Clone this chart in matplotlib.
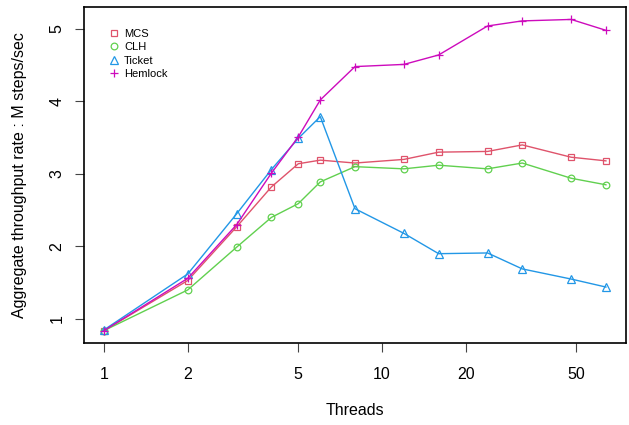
import numpy as np
import matplotlib
matplotlib.use("Agg")
import matplotlib.pyplot as plt
from matplotlib.ticker import FixedLocator, NullLocator

plt.rcParams['font.family'] = ['Liberation Sans', 'DejaVu Sans']

# data
threads = [1, 2, 3, 4, 5, 6, 8, 12, 16, 24, 32, 48, 64]
mcs = [0.84, 1.53, 2.27, 2.82, 3.14, 3.19, 3.15, 3.20, 3.30, 3.31, 3.40, 3.23, 3.18]
clh = [0.84, 1.40, 1.99, 2.40, 2.59, 2.89, 3.10, 3.07, 3.12, 3.07, 3.15, 2.94, 2.85]
ticket = [0.85, 1.62, 2.45, 3.06, 3.49, 3.79, 2.52, 2.18, 1.90, 1.91, 1.69, 1.55, 1.44]
hemlock = [0.84, 1.56, 2.30, 3.01, 3.51, 4.02, 4.48, 4.51, 4.64, 5.04, 5.11, 5.13, 4.98]

names = ["MCS", "CLH", "Ticket", "Hemlock"]
colours = ["#DF536B", "#61D04F", "#2297E6", "#CD0BBC"]
markers = ["s", "o", "^", "+"]
msizes = [4.3, 4.8, 5.3, 6.0]
xticks = [1, 2, 5, 10, 20, 50]
yticks = [1, 2, 3, 4, 5]

fig = plt.figure(figsize=(6.29, 4.25), dpi=100)
ax = fig.add_axes([84/629, 82/425, 542/629, 336/425])

for vals, name, col, mk, ms in zip([mcs, clh, ticket, hemlock], names, colours, markers, msizes):
    ax.plot(threads, vals, color=col, lw=1.0, marker=mk, ms=ms, mew=0.9,
            mfc="none", label=name)

# R style 4% padding on both axes
ax.set_xscale("log")
lo, hi = np.log10(min(threads)), np.log10(max(threads))
pad = 0.04 * (hi - lo)
ax.set_xlim(10 ** (lo - pad), 10 ** (hi + pad))
allv = mcs + clh + ticket + hemlock
ymin, ymax = min(allv), max(allv)
ypad = 0.04 * (ymax - ymin)
ax.set_ylim(ymin - ypad, ymax + ypad)

ax.xaxis.set_major_locator(FixedLocator(xticks))
ax.xaxis.set_minor_locator(NullLocator())
ax.set_xticklabels([str(t) for t in xticks])
ax.set_yticks(yticks)
ax.set_yticklabels([str(t) for t in yticks], rotation=90, va="center")

ax.tick_params(axis="both", length=6.5, width=0.8, labelsize=11.5, color="#444444")
ax.tick_params(axis="x", pad=11)
ax.tick_params(axis="y", pad=7.5)
for s in ax.spines.values():
    s.set_linewidth(1.2)

ax.set_xlabel("Threads", fontsize=11.5, labelpad=15)
ax.set_ylabel("Aggregate throughput rate : M steps/sec", fontsize=11.5, labelpad=16)

leg = ax.legend(loc="upper left", bbox_to_anchor=(0.039, 0.948), frameon=False,
                fontsize=8, handlelength=0.8, handletextpad=0.5, labelspacing=0.3,
                borderaxespad=0)
for h in leg.legend_handles:
    h.set_linestyle("none")

fig.savefig("out.png", dpi=100)
